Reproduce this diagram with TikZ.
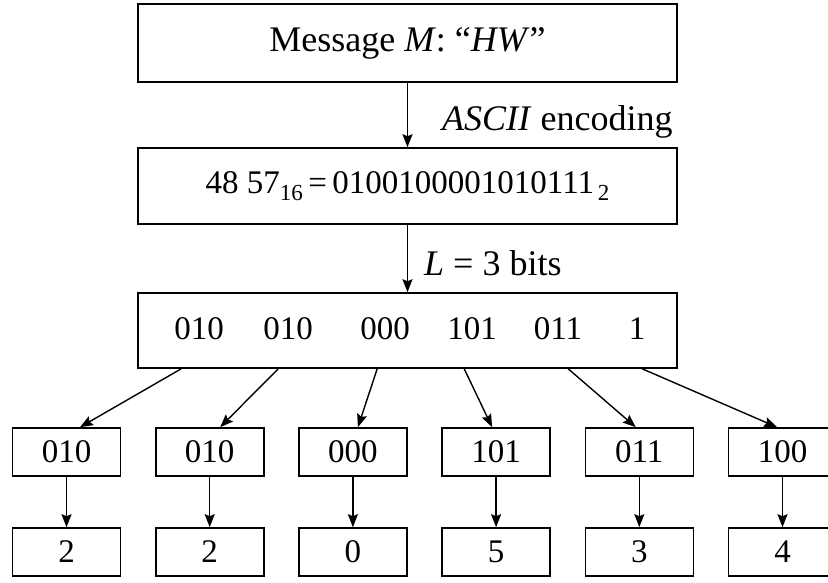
\documentclass[tikz,border=0pt]{standalone}
\usepackage{fontspec}
\setmainfont{Liberation Serif}
\usetikzlibrary{arrows.meta,calc}
\newcommand{\lowsub}[1]{\raisebox{-0.45ex}{\fontsize{23}{25}\selectfont #1}}
\begin{document}
\begin{tikzpicture}[x=1pt,y=-1pt,
  every node/.style={font=\fontsize{33}{38}\selectfont, inner sep=0pt},
  words/.style={font=\fontsize{36}{40}\selectfont},
  wide/.style={draw, line width=1.6pt, minimum width=539pt},
  small/.style={draw, line width=1.6pt, minimum width=108pt, minimum height=48pt},
  arr/.style={-{Stealth[length=13pt,width=10pt,inset=2pt]}, line width=1.4pt},
  lbl/.style={anchor=west, words}]
\useasboundingbox (0,0) rectangle (828,583);
% main boxes
\node[wide, words, minimum height=78pt] (top) at (407.5,43) {Message \textit{M}: ``\textit{HW}''};
\node[wide, minimum height=76pt] (hex) at (407.5,186) {48 57\lowsub{16}\,=\,0100100001010111\lowsub{\,2}};
\node[wide, minimum height=75pt] (bits) at (407.5,330.5) {};
\node (t1) at (199,329) {010};
\node (t2) at (288,329) {010};
\node (t3) at (385,329) {000};
\node (t4) at (472,329) {101};
\node (t5) at (558,329) {011};
\node (t6) at (637,329) {1};
% labels
\node[lbl] (l1) at (442,122) {\textit{ASCII} encoding};
\node[lbl] (l2) at (424,263) {\textit{L} = 3 bits};
\draw[arr] (top.south) -- (hex.north);
\draw[arr] (hex.south) -- (bits.north);
% bottom rows
\foreach \i/\a/\b [count=\k] in {0/010/2,1/010/2,2/000/0,3/101/5,4/011/3,5/100/4}{
  \node[small] (a\k) at (66.5+143.2*\i,452) {\a};
  \node[small] (b\k) at (66.5+143.2*\i,552) {\b};
  \draw[arr] (a\k.south) -- (b\k.north);
}
\draw[arr] ([xshift=44pt]bits.south west) -- ([xshift=13.5pt]a1.north);
\draw[arr] ([xshift=141pt]bits.south west) -- ([xshift=10.5pt]a2.north);
\draw[arr] ([xshift=240pt]bits.south west) -- ([xshift=5pt]a3.north);
\draw[arr] ([xshift=327pt]bits.south west) -- ([xshift=-4pt]a4.north);
\draw[arr] ([xshift=431pt]bits.south west) -- ([xshift=-3.5pt]a5.north);
\draw[arr] ([xshift=505pt]bits.south west) -- ([xshift=-5.5pt]a6.north);
\end{tikzpicture}
\end{document}
